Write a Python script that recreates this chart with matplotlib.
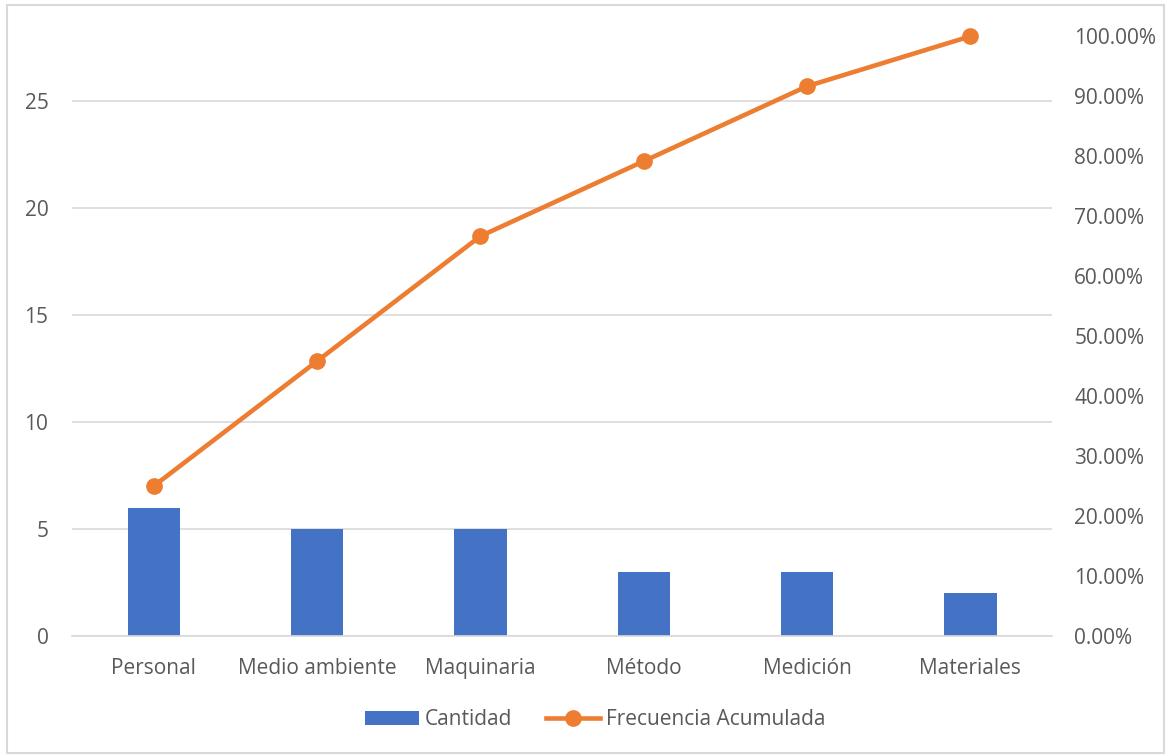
import matplotlib.pyplot as plt
from matplotlib.patches import Rectangle
from matplotlib.ticker import PercentFormatter

categories = ['Personal', 'Medio ambiente', 'Maquinaria', 'Método', 'Medición', 'Materiales']
cantidad = [6, 5, 5, 3, 3, 2]
frecuencia_acumulada = [0.25, 0.4583, 0.6667, 0.7917, 0.9167, 1.0]

plt.rcParams['font.family'] = ['Open Sans', 'DejaVu Sans']
text_color = '#595959'
bar_color = '#4472C4'
line_color = '#ED7D31'
grid_color = '#D9D9D9'
fs = 15

fig = plt.figure(figsize=(11.69, 7.56), dpi=100)
ax = fig.add_axes([0.0616, 0.1587, 0.8384, 0.7933])
ax2 = ax.twinx()

x = range(len(categories))
bars = ax.bar(x, cantidad, width=0.32, color=bar_color, label='Cantidad', zorder=2)
line, = ax2.plot(x, frecuencia_acumulada, color=line_color, lw=3.3, marker='o',
                 markersize=11, label='Frecuencia Acumulada', zorder=3, clip_on=False)

ax.set_xlim(-0.5, len(categories) - 0.5)
ax.set_ylim(0, 28)
ax.set_yticks([0, 5, 10, 15, 20, 25])
ax2.set_ylim(0, 1.0)
ax2.set_yticks([i / 10 for i in range(11)])
ax2.yaxis.set_major_formatter(PercentFormatter(1.0, decimals=2))

ax.set_xticks(list(x))
ax.set_xticklabels(categories)
ax.yaxis.grid(True, color=grid_color, lw=1.2, zorder=0)
ax.set_axisbelow(True)

for a in (ax, ax2):
    for s in a.spines.values():
        s.set_visible(False)
    a.tick_params(length=0, labelsize=fs, colors=text_color)
ax.spines['bottom'].set_visible(True)
ax.spines['bottom'].set_color(grid_color)
ax.spines['bottom'].set_linewidth(1.2)
ax.tick_params(axis='y', pad=17)
ax.tick_params(axis='x', pad=16)
ax2.tick_params(axis='y', pad=16)
ax2.set_zorder(ax.get_zorder() + 1)
ax2.patch.set_visible(False)

fig.legend([bars, line], ['Cantidad', 'Frecuencia Acumulada'], loc='center',
           bbox_to_anchor=(0.509, 0.048), ncol=2, frameon=False, fontsize=fs,
           labelcolor=text_color, handlelength=2.6, columnspacing=1.6,
           handletextpad=0.3)

fig.patches.append(Rectangle((0.006, 0.004), 0.99, 0.99, transform=fig.transFigure,
                             fill=False, edgecolor=grid_color, lw=1.5))

fig.savefig('out.png', dpi=100)
